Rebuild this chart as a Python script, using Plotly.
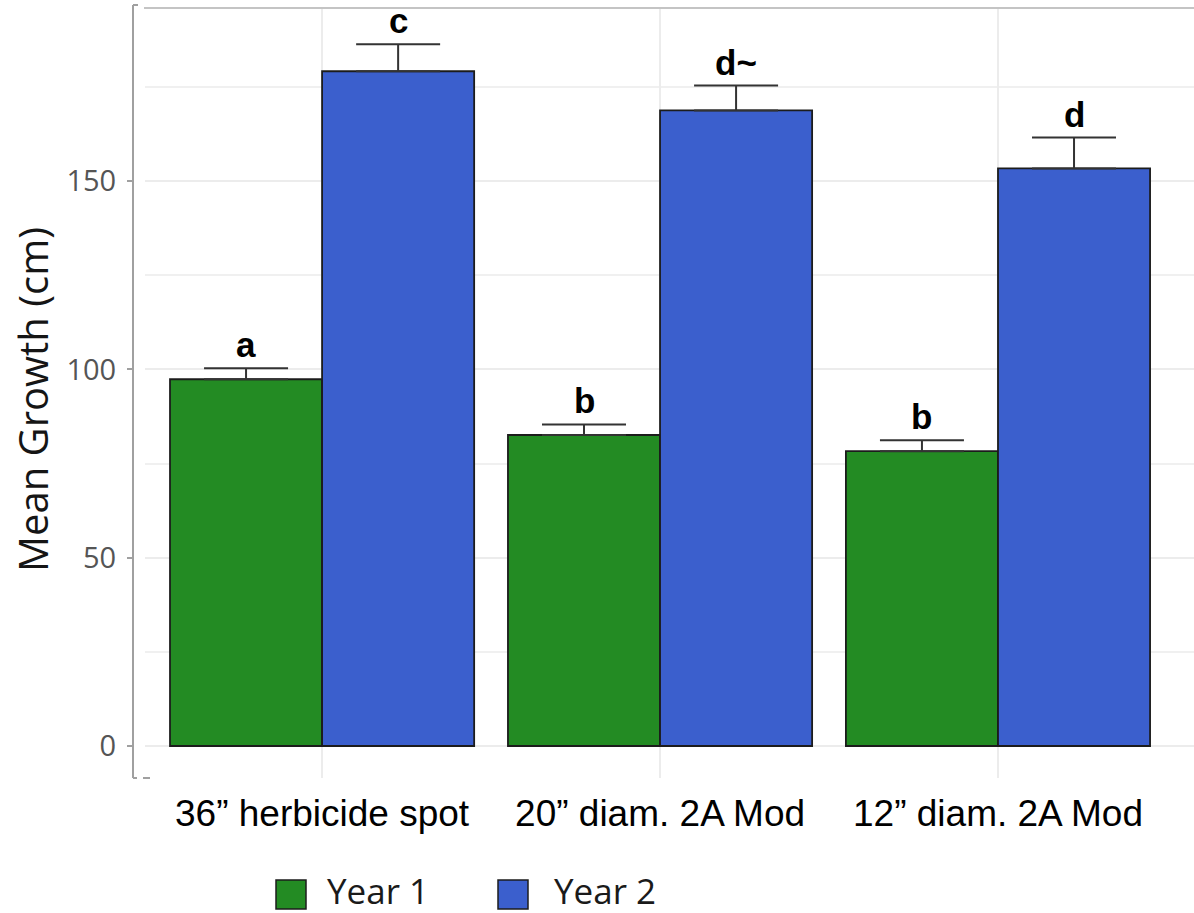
import plotly.graph_objects as go

# ---- data ----
categories = ["36\u201d herbicide spot", "20\u201d diam. 2A Mod", "12\u201d diam. 2A Mod"]
series_names = ["Year 1", "Year 2"]
year1_mean = [97.4, 82.6, 78.3]
year1_se = [2.9, 2.8, 2.9]
year2_mean = [179.2, 168.8, 153.4]
year2_se = [7.2, 6.6, 8.2]
year1_letters = ["a", "b", "b"]
year2_letters = ["c", "d~", "d"]
y_ticks = [0, 50, 100, 150]

GREEN = "#238b23"
BLUE = "#3b5fcd"
OUTLINE = "#1c1c1c"

W, H = 1194, 913
M_L, M_R, M_T, M_B = 133, 0, 8, 135
PLOT_W = W - M_L - M_R
PLOT_H = H - M_T - M_B
X_DOMAIN_START = 12 / PLOT_W


def px_x(px):
    return (px - M_L) / PLOT_W


def px_y(py):
    return (H - M_B - py) / PLOT_H


x_pos = list(range(len(categories)))
BAR_W = 0.45  # each bar of the dodged pair (bargap 0.1)

fig = go.Figure()
for name, means, ses, color in [
    (series_names[0], year1_mean, year1_se, GREEN),
    (series_names[1], year2_mean, year2_se, BLUE),
]:
    fig.add_trace(go.Bar(
        x=x_pos, y=means, name=name,
        marker=dict(color=color, line=dict(color=OUTLINE, width=1.8)),
        error_y=dict(type="data", symmetric=False, array=ses,
                     arrayminus=[0] * len(ses), color="#333333",
                     thickness=2, width=42),
        showlegend=False,
    ))

# significance letters above each error bar
annotations = []
for i in x_pos:
    for offset, means, ses, letters in [
        (-BAR_W / 2, year1_mean, year1_se, year1_letters),
        (BAR_W / 2, year2_mean, year2_se, year2_letters),
    ]:
        annotations.append(dict(
            x=i + offset, y=means[i] + ses[i], xref="x", yref="y",
            text=letters[i], showarrow=False, yanchor="bottom", yshift=3,
            borderpad=0,
            font=dict(family="Arial, Liberation Sans", size=35, color="black",
                      weight="bold"),
        ))

# y-axis title
annotations.append(dict(
    x=px_x(33), y=px_y(400), xref="paper", yref="paper",
    xanchor="center", yanchor="middle",
    text="Mean Growth (cm)", textangle=-90, showarrow=False,
    font=dict(family="Open Sans", size=40, color="#151515"),
))

# legend drawn as boxes and labels
shapes = []
legend_items = [(series_names[0], GREEN, 276, 325), (series_names[1], BLUE, 498, 552)]
for name, color, box_left, text_left in legend_items:
    shapes.append(dict(
        type="rect", xref="paper", yref="paper",
        x0=px_x(box_left), x1=px_x(box_left + 30),
        y0=px_y(909), y1=px_y(880),
        fillcolor=color, line=dict(color=OUTLINE, width=1.5),
    ))
    annotations.append(dict(
        x=px_x(text_left), y=px_y(891), xref="paper", yref="paper",
        text=name, showarrow=False, xanchor="left", yanchor="middle",
        font=dict(family="Open Sans", size=35, color="#1a1a1a"),
    ))

# bracket-style left axis line and top border
axis_grey = "#a0a0a0"
shapes += [
    dict(type="line", xref="paper", yref="paper",
         x0=px_x(133), x1=px_x(133), y0=px_y(5), y1=px_y(778),
         line=dict(color=axis_grey, width=2)),
    dict(type="line", xref="paper", yref="paper",
         x0=px_x(133), x1=px_x(138), y0=px_y(5), y1=px_y(5),
         line=dict(color=axis_grey, width=2)),
    dict(type="line", xref="paper", yref="paper",
         x0=px_x(133), x1=px_x(137), y0=px_y(778), y1=px_y(778),
         line=dict(color=axis_grey, width=2)),
    dict(type="line", xref="paper", yref="paper",
         x0=px_x(143), x1=px_x(150), y0=px_y(778), y1=px_y(778),
         line=dict(color=axis_grey, width=2)),
    dict(type="line", xref="paper", yref="paper",
         x0=px_x(144), x1=1, y0=px_y(8), y1=px_y(8),
         line=dict(color="#c4c4c4", width=2)),
]

fig.update_layout(
    width=W, height=H,
    margin=dict(l=M_L, r=M_R, t=M_T, b=M_B, pad=0),
    paper_bgcolor="white", plot_bgcolor="white",
    barmode="group", bargap=0.1, bargroupgap=0,
    showlegend=False,
    annotations=annotations, shapes=shapes,
    xaxis=dict(
        domain=[X_DOMAIN_START, 1],
        range=[-0.524, 2.58],
        tickmode="array", tickvals=x_pos, ticktext=categories,
        showgrid=True, gridcolor="#ececec", gridwidth=1.5,
        showline=False, zeroline=False, ticks="",
        ticklabelstandoff=10,
        tickfont=dict(family="Arial, Liberation Sans", size=37, color="black"),
    ),
    yaxis=dict(
        anchor="free", position=0,
        range=[-8.5, 196],
        tickmode="array", tickvals=y_ticks,
        showgrid=True, gridcolor="#ececec", gridwidth=1.5,
        minor=dict(dtick=25, tick0=0, showgrid=True, gridcolor="#f0f0f0",
                   gridwidth=1.5),
        showline=False, zeroline=False,
        ticks="outside", ticklen=6, tickwidth=2, tickcolor=axis_grey,
        ticklabelstandoff=5,
        tickfont=dict(family="Open Sans", size=29, color="#555555"),
    ),
)

fig.write_html("out.html")
